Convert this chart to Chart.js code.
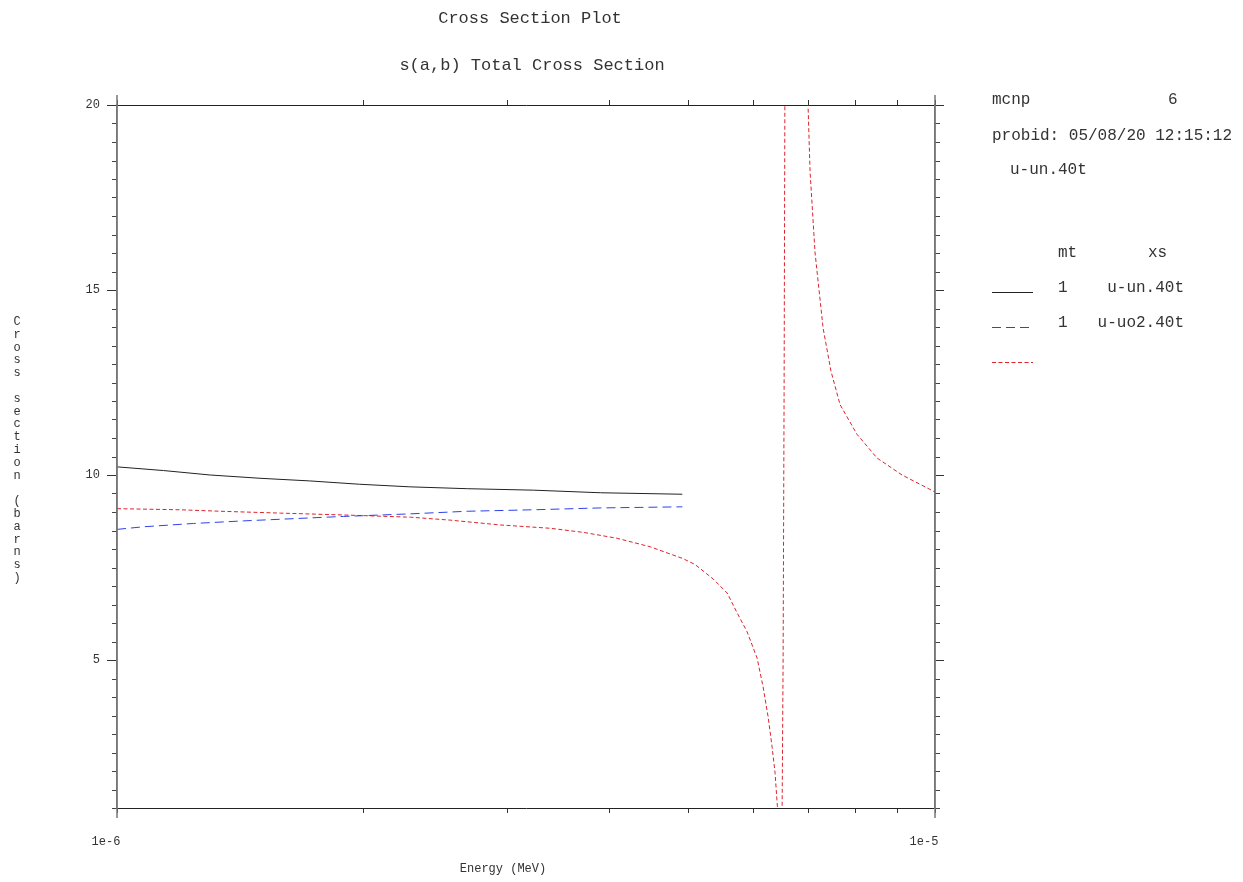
<!DOCTYPE html>
<html>
<head>
<meta charset="utf-8">
<title>Cross Section Plot</title>
<script src="https://cdn.jsdelivr.net/npm/chart.js@4.4.1/dist/chart.umd.min.js"></script>
<style>
  body { margin: 0; background: #fff; }
  #wrap { position: relative; width: 1243px; height: 882px; overflow: hidden;
          font-family: 'Liberation Mono', 'DejaVu Sans Mono', monospace; color: #333; }
  #plot { position: absolute; left: 0; top: 0; }
  .txt { position: absolute; white-space: pre; line-height: 1; }
  .mid { transform: translateX(-50%); }
  #ytitle { position: absolute; left: 13px; top: 316px; font-size: 12px; line-height: 12.8px; text-align: center; width: 8px; }
</style>
</head>
<body>
<div id="wrap">
  <canvas id="plot" width="1243" height="882"></canvas>
  <div class="txt mid" style="left:530px; top:10px; font-size:17px;">Cross Section Plot</div>
  <div class="txt mid" style="left:532px; top:57px; font-size:17px;">s(a,b) Total Cross Section</div>
  <div class="txt" style="left:992px; top:92px; font-size:16px;">mcnp</div>
  <div class="txt" style="left:1168px; top:92px; font-size:16px;">6</div>
  <div class="txt" style="left:992px; top:128px; font-size:16px;">probid: 05/08/20 12:15:12</div>
  <div class="txt" style="left:1010px; top:162px; font-size:16px;">u-un.40t</div>
  <div class="txt" style="left:1058px; top:245px; font-size:16px;">mt</div>
  <div class="txt" style="left:1148px; top:245px; font-size:16px;">xs</div>
  <div id="legendText"></div>
  <div id="ytitle"></div>
  <div class="txt mid" style="left:503px; top:863px; font-size:12px;">Energy (MeV)</div>
</div>
<script>
// ENDF-style cross sections, energy in MeV, sigma in barns
const energyUn = [1.0e-6, 1.14e-6, 1.30e-6, 1.50e-6, 1.72e-6, 1.98e-6, 2.28e-6, 2.68e-6, 3.23e-6, 3.90e-6, 4.91e-6];
const sigmaUn = [10.22, 10.12, 10.0, 9.91, 9.84, 9.75, 9.68, 9.63, 9.59, 9.52, 9.48];

const energyUo2 = [1.0e-6, 1.077e-6, 1.24e-6, 1.428e-6, 1.643e-6, 1.891e-6, 2.284e-6, 2.68e-6, 3.227e-6, 3.896e-6, 4.91e-6];
const sigmaUo2 = [8.53, 8.60, 8.69, 8.76, 8.82, 8.88, 8.95, 9.02, 9.06, 9.11, 9.14];

const energySab = [1.0e-6, 1.196e-6, 1.338e-6, 1.584e-6, 1.891e-6, 2.284e-6, 2.555e-6, 2.942e-6, 3.385e-6, 3.715e-6,
  4.087e-6, 4.485e-6, 4.92e-6, 5.09e-6, 5.356e-6, 5.571e-6, 5.73e-6, 5.893e-6, 6.061e-6, 6.164e-6,
  6.252e-6, 6.322e-6, 6.375e-6, 6.412e-6, 6.45e-6, 6.503e-6, 6.521e-6, 6.539e-6, 6.557e-6, 6.62e-6,
  6.67e-6, 6.80e-6, 6.95e-6, 6.995e-6, 7.035e-6, 7.135e-6, 7.298e-6, 7.463e-6, 7.655e-6, 8.029e-6,
  8.493e-6, 9.114e-6, 1.0e-5];
const sigmaSab = [9.09, 9.06, 9.02, 8.97, 8.92, 8.86, 8.78, 8.65, 8.56, 8.45,
  8.29, 8.06, 7.74, 7.58, 7.19, 6.81, 6.27, 5.76, 5.05, 4.27,
  3.46, 2.65, 1.95, 1.14, 0.4, 1.0, 5.0, 12.2, 22, 80,
  500, 60, 22, 20.0, 18.2, 16.0, 13.97, 12.8, 11.9, 11.1,
  10.46, 10.0, 9.54];

const xTickValues = [1e-6, 2e-6, 3e-6, 4e-6, 5e-6, 6e-6, 7e-6, 8e-6, 9e-6, 1e-5];
const yMajorStep = 5;
const yMinorStep = 0.5;

const legendMt = ['1', '1', ''];
const legendXs = ['u-un.40t', 'u-uo2.40t', ''];
const yTitle = 'Cross section (barns)';

function pairs(xs, ys) {
  return xs.map((x, i) => ({ x: x, y: ys[i] }));
}

// text bits outside the canvas
document.getElementById('ytitle').innerHTML =
  yTitle.split('').map(c => c === ' ' ? '&nbsp;' : c).join('<br>');
const legendRowsY = [292, 327, 362];
document.getElementById('legendText').innerHTML = legendMt.map((mt, i) =>
  '<div class="txt" style="left:1058px; top:' + (legendRowsY[i] - 12) + 'px; font-size:16px;">' + mt + '</div>' +
  '<div class="txt" style="right:59px; top:' + (legendRowsY[i] - 12) + 'px; font-size:16px;">' + legendXs[i] + '</div>'
).join('');

const isMajorY = v => Math.abs(v % yMajorStep) < 1e-9;

const frameTicks = {
  id: 'frameTicks',
  afterDraw(chart) {
    const ctx = chart.ctx;
    const a = chart.chartArea;
    const yl = chart.scales.y;
    ctx.save();
    ctx.strokeStyle = '#444';
    ctx.lineWidth = 1;
    ctx.beginPath();
    yl.ticks.forEach(t => {
      if (isMajorY(t.value)) return;
      const py = Math.round(yl.getPixelForValue(t.value)) + 0.5;
      ctx.moveTo(a.left - 5, py); ctx.lineTo(a.left, py);
      ctx.moveTo(a.right, py); ctx.lineTo(a.right + 5, py);
    });
    ctx.stroke();
    // side lines run past the box
    ctx.strokeStyle = '#777';
    ctx.lineWidth = 1.5;
    ctx.beginPath();
    ctx.moveTo(a.left, a.top - 10); ctx.lineTo(a.left, a.bottom + 10);
    ctx.moveTo(a.right, a.top - 10); ctx.lineTo(a.right, a.bottom + 10);
    ctx.stroke();
    // legend samples
    chart.data.datasets.forEach((ds, i) => {
      ctx.strokeStyle = ds.borderColor;
      ctx.lineWidth = ds.borderWidth;
      ctx.setLineDash(ds.borderDash || []);
      ctx.beginPath();
      ctx.moveTo(992, legendRowsY[i] + 0.5);
      ctx.lineTo(1033, legendRowsY[i] + 0.5);
      ctx.stroke();
    });
    ctx.restore();
  }
};

Chart.defaults.font.family = "'Liberation Mono', monospace";
Chart.defaults.font.size = 12;
Chart.defaults.color = '#333';

const gridBase = { drawOnChartArea: false, color: '#333' };

const chart = new Chart(document.getElementById('plot'), {
  type: 'line',
  data: {
    datasets: [{
      label: legendXs[0],
      data: pairs(energyUn, sigmaUn),
      borderColor: '#222',
      borderWidth: 1,
      pointRadius: 0,
      tension: 0
    }, {
      label: legendXs[1],
      data: pairs(energyUo2, sigmaUo2),
      borderColor: 'rgb(45,65,235)',
      borderWidth: 1,
      borderDash: [9, 5],
      pointRadius: 0,
      tension: 0
    }, {
      label: legendXs[2],
      data: pairs(energySab, sigmaSab),
      borderColor: 'rgb(220,35,45)',
      borderWidth: 1,
      borderDash: [4, 2.5],
      pointRadius: 0,
      tension: 0
    }]
  },
  options: {
    responsive: false,
    animation: false,
    events: [],
    layout: { padding: { left: 0, right: 288, top: 85, bottom: 24 } },
    plugins: {
      legend: { display: false },
      tooltip: { enabled: false }
    },
    scales: {
      x: {
        type: 'logarithmic',
        position: 'bottom',
        min: 1e-6,
        max: 1e-5,
        afterFit: s => { s.height = 50; },
        afterBuildTicks: s => { s.ticks = xTickValues.map(v => ({ value: v })); },
        grid: Object.assign({ tickLength: 5 }, gridBase),
        border: { color: '#222', width: 1 },
        ticks: {
          autoSkip: false,
          maxRotation: 0,
          padding: 22,
          labelOffset: -11,
          callback: (v, i, ticks) => (i === 0 || i === ticks.length - 1) ? Number(v).toExponential(0) : ''
        }
      },
      xTop: {
        type: 'logarithmic',
        position: 'top',
        min: 1e-6,
        max: 1e-5,
        afterFit: s => { s.height = 20; },
        afterBuildTicks: s => { s.ticks = xTickValues.map(v => ({ value: v })); },
        grid: Object.assign({ tickLength: 5 }, gridBase),
        border: { color: '#222', width: 1 },
        ticks: { display: false }
      },
      y: {
        position: 'left',
        min: 1,
        max: 20,
        afterFit: s => { s.width = 117; },
        grid: Object.assign({}, gridBase, {
          tickLength: 10,
          tickColor: c => (c.tick && isMajorY(c.tick.value)) ? '#333' : 'rgba(0,0,0,0)'
        }),
        border: { color: '#777', width: 1.5 },
        ticks: {
          stepSize: yMinorStep,
          autoSkip: false,
          padding: 7,
          callback: v => isMajorY(v) ? String(v) : ''
        }
      },
      yR: {
        position: 'right',
        min: 1,
        max: 20,
        afterFit: s => { s.width = 20; },
        grid: Object.assign({}, gridBase, {
          tickLength: 9,
          tickColor: c => (c.tick && isMajorY(c.tick.value)) ? '#333' : 'rgba(0,0,0,0)'
        }),
        border: { color: '#777', width: 1.5 },
        ticks: { display: false, stepSize: yMinorStep, autoSkip: false }
      }
    }
  },
  plugins: [frameTicks]
});
</script>
</body>
</html>
